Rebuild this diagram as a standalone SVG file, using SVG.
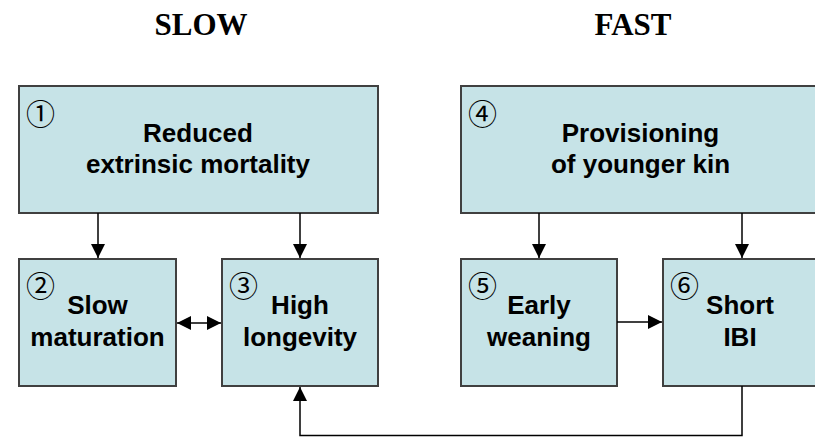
<svg xmlns="http://www.w3.org/2000/svg" width="815" height="437" viewBox="0 0 815 437">
  <style>
    .box { fill: #c6e3e7; stroke: #404040; stroke-width: 2; }
    .lbl { font-family: "Liberation Sans", Arial, sans-serif; font-weight: bold; font-size: 26px; fill: #000; text-anchor: middle; }
    .num { font-family: "Noto Sans CJK JP", "DejaVu Sans", sans-serif; font-size: 29px; fill: #000; }
    .title { font-family: "Liberation Serif", "Times New Roman", serif; font-weight: bold; font-size: 31px; fill: #000; text-anchor: middle; }
    .conn { fill: none; stroke: #000; stroke-width: 1.5; }
  </style>
  <defs>
    <marker id="ah" viewBox="0 0 10 10" refX="10" refY="5" markerWidth="14" markerHeight="14" markerUnits="userSpaceOnUse" orient="auto-start-reverse">
      <path d="M0,0 L10,5 L0,10 Z" fill="#000"/>
    </marker>
  </defs>
  <rect width="815" height="437" fill="#fff"/>

  <text class="title" x="201" y="35">SLOW</text>
  <text class="title" x="633" y="35">FAST</text>

  <g id="node1">
    <rect class="box" x="19" y="86" width="359" height="127"/>
    <text class="num" x="26" y="125">①</text>
    <text class="lbl" x="198" y="142">Reduced</text>
    <text class="lbl" x="198" y="173">extrinsic mortality</text>
  </g>
  <g id="node2">
    <rect class="box" x="19" y="259" width="157" height="127"/>
    <text class="num" x="26" y="297">②</text>
    <text class="lbl" x="97.5" y="314">Slow</text>
    <text class="lbl" x="97.5" y="346">maturation</text>
  </g>
  <g id="node3">
    <rect class="box" x="222" y="259" width="156" height="127"/>
    <text class="num" x="229" y="297">③</text>
    <text class="lbl" x="300" y="314">High</text>
    <text class="lbl" x="300" y="346">longevity</text>
  </g>
  <g id="node4">
    <rect class="box" x="461" y="86" width="359" height="127"/>
    <text class="num" x="468" y="125">④</text>
    <text class="lbl" x="640.5" y="142">Provisioning</text>
    <text class="lbl" x="640.5" y="173">of younger kin</text>
  </g>
  <g id="node5">
    <rect class="box" x="461" y="259" width="156" height="127"/>
    <text class="num" x="468" y="297">⑤</text>
    <text class="lbl" x="539" y="314">Early</text>
    <text class="lbl" x="539" y="346">weaning</text>
  </g>
  <g id="node6">
    <rect class="box" x="663" y="259" width="157" height="127"/>
    <text class="num" x="670" y="297">⑥</text>
    <text class="lbl" x="740" y="314">Short</text>
    <text class="lbl" x="740" y="346">IBI</text>
  </g>

  <g id="connectors">
    <line class="conn" x1="98" y1="213" x2="98" y2="258" marker-end="url(#ah)"/>
    <line class="conn" x1="300" y1="213" x2="300" y2="258" marker-end="url(#ah)"/>
    <line class="conn" x1="539" y1="213" x2="539" y2="258" marker-end="url(#ah)"/>
    <line class="conn" x1="742" y1="213" x2="742" y2="258" marker-end="url(#ah)"/>
    <line class="conn" x1="177" y1="323" x2="221" y2="323" marker-start="url(#ah)" marker-end="url(#ah)"/>
    <line class="conn" x1="617" y1="322" x2="662" y2="322" marker-end="url(#ah)"/>
    <path class="conn" d="M742,386 V435.5 H300 V387" marker-end="url(#ah)"/>
  </g>
</svg>
